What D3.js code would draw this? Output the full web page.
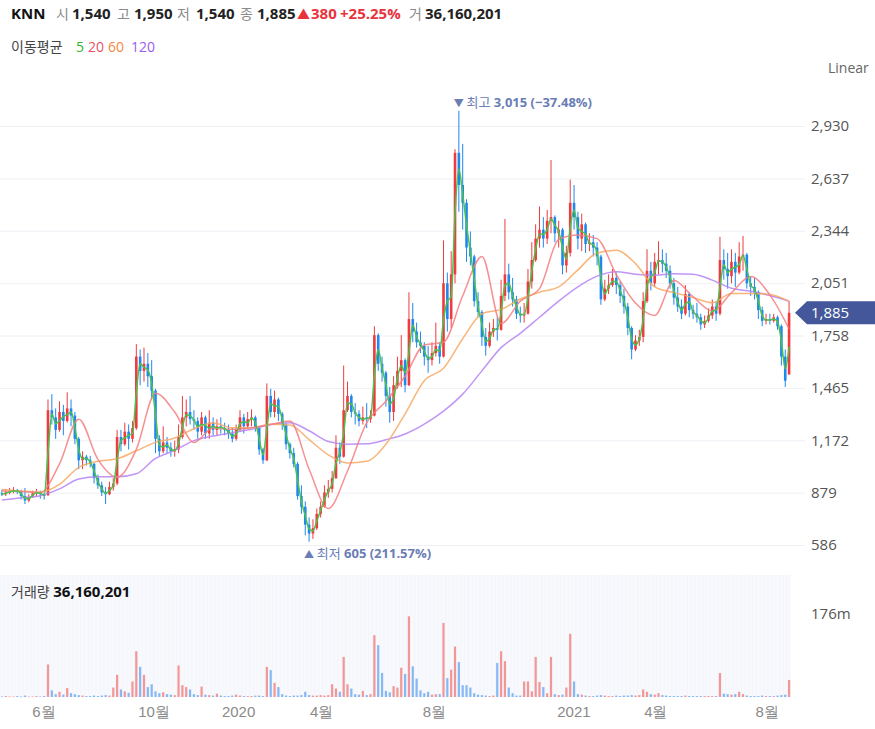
<!DOCTYPE html>
<html><head><meta charset="utf-8">
<script src="https://cdn.jsdelivr.net/npm/d3@7"></script>
<style>
body{margin:0;background:#fff;}
svg{display:block;font-family:"Open Sans","Noto Sans CJK KR",sans-serif;}
</style></head><body><svg id="c" width="875" height="729"></svg>
<script>
// ---------------- DATA ----------------
const stockName = "KNN";
const startDate = "2019-04-16";   // first trading day shown
const daysPerCandle = 3;          // each candle groups 3 trading days
const openP = [875,870,880,885,890,885,860,835,855,875,880,870,865,1340,1300,1230,1330,1280,1350,1310,1180,1060,1080,1060,1040,960,920,880,870,910,930,1190,1150,1220,1180,1240,1640,1560,1600,1530,1450,1180,1110,1160,1130,1110,1120,1190,1300,1330,1290,1280,1220,1300,1210,1270,1230,1250,1240,1230,1210,1180,1230,1300,1250,1290,1300,1240,1120,1060,1420,1330,1400,1320,1260,1150,1100,1040,860,800,700,650,680,760,800,880,900,960,1130,1080,1340,1420,1330,1320,1280,1300,1290,1310,1760,1600,1550,1420,1330,1480,1560,1620,1480,1850,1780,1720,1700,1640,1620,1660,1700,1640,2050,1850,2100,2780,2600,2500,2250,2200,1950,1890,1750,1700,1780,1800,1790,1980,2100,2000,1960,1880,1870,1880,2060,2180,2300,2350,2300,2400,2420,2330,2350,2150,2220,2500,2420,2300,2380,2270,2280,2250,2200,1960,2020,2040,2080,2040,1980,1920,1800,1680,1730,1750,1950,2120,2050,2170,2180,2160,2120,2050,1970,1920,1880,1990,1900,1880,1860,1820,1840,1870,1920,1880,2180,2130,2090,2170,2110,2200,2210,2050,2030,2000,1900,1840,1850,1840,1860,1810,1640,1540];
const highP = [895,900,905,910,900,895,905,870,890,900,890,880,1400,1430,1350,1390,1370,1440,1400,1330,1190,1110,1090,1085,1045,980,940,910,940,960,1230,1230,1270,1260,1280,1710,1680,1690,1660,1620,1460,1200,1250,1190,1160,1170,1260,1420,1400,1420,1340,1300,1330,1310,1340,1300,1290,1300,1270,1260,1240,1260,1340,1320,1330,1345,1310,1250,1130,1490,1460,1450,1410,1330,1270,1160,1130,1050,920,830,740,730,790,830,920,950,1000,1200,1160,1590,1500,1430,1380,1340,1360,1380,1340,1810,1770,1640,1560,1470,1530,1640,1760,1630,2000,1940,1830,1780,1720,1700,1720,1830,1720,2290,2110,2230,2800,3015,2830,2520,2340,2210,2000,1900,1800,1830,1850,1860,2070,2410,2160,2080,1980,1920,1940,2130,2280,2380,2480,2420,2460,2740,2430,2400,2360,2260,2630,2600,2450,2440,2390,2330,2320,2280,2210,2070,2100,2130,2110,2060,2020,1940,1810,1760,1790,2000,2240,2170,2220,2285,2240,2220,2150,2080,2030,1960,2040,2000,1930,1940,1880,1870,1910,1960,1950,2310,2240,2220,2240,2220,2280,2315,2220,2090,2080,2010,1920,1880,1880,1880,1870,1820,1680,1950];
const lowP = [860,860,870,875,870,840,815,825,850,860,845,840,860,1260,1180,1220,1200,1270,1250,1150,1010,1010,1030,1020,930,900,860,815,865,890,920,1110,1140,1120,1160,1230,1480,1500,1470,1400,1100,1080,1100,1100,1080,1080,1100,1180,1250,1260,1230,1180,1200,1180,1180,1200,1200,1210,1200,1180,1160,1170,1220,1210,1240,1250,1220,1090,1040,1055,1300,1300,1280,1230,1120,1070,1020,840,760,640,605,620,670,740,795,850,880,955,1040,1075,1330,1300,1260,1250,1260,1240,1270,1305,1560,1500,1360,1270,1280,1460,1470,1440,1475,1720,1690,1660,1590,1550,1590,1640,1600,1635,1780,1800,2050,2450,2350,2170,2150,1920,1860,1700,1645,1690,1750,1730,1785,1950,1960,1920,1850,1830,1830,1875,2020,2170,2250,2250,2270,2330,2280,2250,2100,2110,2200,2350,2240,2230,2220,2230,2200,2150,1930,1950,1990,2030,1990,1940,1880,1760,1625,1670,1700,1720,1940,2010,2030,2100,2110,2080,2020,1930,1890,1850,1870,1860,1850,1830,1790,1800,1830,1850,1840,1870,2070,2020,2050,2030,2100,2120,2020,1980,1960,1850,1810,1820,1820,1830,1790,1590,1470,1540];
const closeP = [870,880,885,890,885,860,835,855,875,880,870,860,1340,1300,1230,1330,1280,1350,1310,1180,1060,1080,1060,1040,960,920,880,870,910,930,1190,1150,1220,1180,1240,1640,1560,1600,1530,1450,1180,1110,1160,1130,1110,1120,1190,1300,1330,1290,1280,1220,1300,1210,1270,1230,1250,1240,1230,1210,1180,1230,1300,1250,1290,1300,1240,1120,1060,1420,1330,1400,1320,1260,1150,1100,1040,860,800,700,650,680,760,800,880,900,960,1130,1080,1340,1420,1330,1320,1280,1300,1290,1310,1760,1600,1550,1420,1330,1480,1560,1620,1480,1850,1780,1720,1700,1640,1620,1660,1700,1640,2050,1850,2100,2780,2600,2500,2250,2200,1950,1890,1750,1700,1780,1800,1790,1980,2100,2000,1960,1880,1870,1880,2060,2180,2300,2350,2300,2400,2420,2330,2350,2150,2220,2500,2420,2300,2380,2270,2280,2250,2200,1960,2020,2040,2080,2040,1980,1920,1800,1680,1730,1750,1950,2120,2050,2170,2180,2160,2120,2050,1970,1920,1880,1990,1900,1880,1860,1820,1840,1870,1920,1880,2180,2130,2090,2170,2110,2200,2210,2050,2030,2000,1900,1840,1850,1840,1860,1810,1640,1505,1885];
// volume in millions of shares
const volumeM = [1,2,1,1,2,1,3,1,1,2,1,2,69,14,6,11,5,19,8,6,4,3,2,2,3,2,3,4,3,20,47,16,12,9,33,97,64,47,21,27,12,8,10,6,5,4,67,25,21,16,6,4,22,5,4,3,7,3,2,2,3,5,3,2,2,2,3,3,2,64,57,30,21,6,3,2,3,3,4,11,4,3,3,4,3,4,27,18,11,85,27,18,6,5,13,4,6,131,110,51,13,10,23,20,62,49,171,65,39,14,8,11,5,6,6,157,40,58,107,74,25,25,20,8,5,4,3,2,3,72,97,76,20,8,3,3,33,33,12,85,32,21,8,85,6,4,5,20,134,33,6,5,3,2,2,3,4,3,2,2,3,2,3,3,4,3,4,16,11,6,5,8,4,3,2,2,2,2,3,2,2,2,2,2,2,2,2,51,7,6,5,6,11,6,3,2,2,2,3,2,2,2,3,4,5,36.16];
const lastVolume = 36160201;
// moving averages, one value every maStep candles
const maStep = 5;
const ma20 = [888,885,880,1040,1290,1065,965,1121,1435,1330,1160,1240,1233,1242,1260,1280,1010,790,1000,1270,1390,1530,1705,1720,1980,2200,1825,1950,2020,2295,2320,2300,2100,1940,1870,2065,1975,1895,1997,2088,1985,1795];
const ma60 = [897,888,882,925,1020,1054,1068,1113,1160,1185,1236,1268,1242,1242,1261,1258,1175,1090,1045,1055,1150,1320,1505,1575,1740,1880,1904,1962,2000,2030,2125,2220,2235,2160,2030,1998,1970,1941,1993,1993,1988,1950];
const ma120 = [838,850,862,900,955,968,968,985,1070,1115,1170,1196,1214,1233,1260,1270,1225,1165,1150,1152,1175,1207,1262,1335,1430,1560,1690,1770,1860,1950,2030,2090,2115,2100,2095,2103,2100,2068,2022,2005,1982,1950];
const maPeriods = [5,20,60,120];
const priceTicks = [586,879,1172,1465,1758,2051,2344,2637,2930];
const volumeTicks = [176];
const monthTickDates = ["2019-06-03","2019-10-01","2020-01-01","2020-04-01","2020-08-03","2021-01-01","2021-04-01","2021-08-02"];
const monthTickLabels = ["6월","10월","2020","4월","8월","2021","4월","8월"];

// ---------------- CHART ----------------
const N = closeP.length;
const svg = d3.select("#c");
const UP = "#ef3b3d", DOWN = "#1f87ee";
const MA_COLORS = ["#4cc24c","#f47e80","#f8a863","#b683f5"];
const LEGEND_COLORS = ["#2fb52f","#f0506a","#f2883c","#9a5cf0"];
const fmt = d3.format(",");

const x = d3.scaleLinear().domain([0, N*daysPerCandle]).range([0, 791]);
const cx = i => x(i*daysPerCandle + daysPerCandle/2);
const y = d3.scaleLinear().domain([priceTicks[0], priceTicks[priceTicks.length-1]]).range([545,126]);
const yv = d3.scaleLinear().domain([0,176]).range([697,614]);

function weekdayIndex(s){
  const d0 = new Date(startDate+"T00:00:00"), d1 = new Date(s+"T00:00:00");
  let n = 0;
  for (let d = new Date(d0); d < d1; d.setDate(d.getDate()+1)) { const w = d.getDay(); if (w!==0 && w!==6) n++; }
  return n;
}

// grid
const grid = svg.append("g").attr("transform","translate(805,0)")
  .call(d3.axisLeft(y).tickValues(priceTicks).tickSize(805).tickFormat(""));
grid.select(".domain").remove();
grid.selectAll("line").attr("stroke","#eef0f5");

// price labels
const pa = svg.append("g").attr("transform","translate(806,0)")
  .call(d3.axisRight(y).tickValues(priceTicks).tickSize(0).tickPadding(5).tickFormat(fmt));
pa.select(".domain").remove();
pa.selectAll("text").attr("fill","#555").style("font-size","15px").style("font-family","'Open Sans',sans-serif");

svg.append("text").attr("x",828).attr("y",73).attr("fill","#666").style("font-size","14px").text("Linear");

// volume panel
svg.append("rect").attr("x",0).attr("y",575).attr("width",791).attr("height",122).attr("fill","#f8f9fd");
svg.append("g").selectAll("line").data(d3.range(N)).join("line")
  .attr("x1",i=>x(i*daysPerCandle)).attr("x2",i=>x(i*daysPerCandle))
  .attr("y1",575).attr("y2",697).attr("stroke","#f1f3f9").attr("stroke-width",0.7);
svg.append("g").selectAll("rect").data(d3.range(N)).join("rect")
  .attr("x",i=>cx(i)-1.1).attr("width",2.2)
  .attr("y",i=>yv(volumeM[i])).attr("height",i=>Math.max(0.6, 697-yv(volumeM[i])))
  .attr("fill",i=>closeP[i]>=openP[i] ? "#f28b8b" : "#79b0f2").attr("opacity",0.9);
const va = svg.append("g").attr("transform","translate(806,0)")
  .call(d3.axisRight(yv).tickValues(volumeTicks).tickSize(0).tickPadding(5).tickFormat(d=>d+"m"));
va.select(".domain").remove();
va.selectAll("text").attr("fill","#555").style("font-size","15px").style("font-family","'Open Sans',sans-serif");

const vl = svg.append("text").attr("x",11).attr("y",597).style("font-size","15px");
vl.append("tspan").attr("fill","#444").style("font-size","14px").text("거래량 ");
vl.append("tspan").attr("fill","#111").attr("font-weight","bold").text(fmt(lastVolume));

// x axis
const xa = svg.append("g").attr("transform","translate(0,702)")
  .call(d3.axisBottom(x).tickValues(monthTickDates.map(weekdayIndex)).tickSize(0).tickPadding(0)
    .tickFormat((d,k)=>monthTickLabels[k]));
xa.select(".domain").remove();
xa.selectAll("text").attr("fill","#8a8a8a").style("font-size","15px").attr("dy","1em");

// candles
const cg = svg.append("g");
cg.selectAll("line").data(d3.range(N)).join("line")
  .attr("x1",cx).attr("x2",cx)
  .attr("y1",i=>y(highP[i])).attr("y2",i=>y(lowP[i]))
  .attr("stroke",i=>closeP[i]>=openP[i]?UP:DOWN).attr("stroke-width",1);
cg.selectAll("rect").data(d3.range(N)).join("rect")
  .attr("x",i=>cx(i)-1.3).attr("width",2.6)
  .attr("y",i=>y(Math.max(openP[i],closeP[i])))
  .attr("height",i=>Math.max(1, Math.abs(y(openP[i])-y(closeP[i]))))
  .attr("fill",i=>closeP[i]>=openP[i]?UP:DOWN);

// moving averages
const ma5 = closeP.map((v,i)=>d3.mean(closeP.slice(Math.max(0,i-1), i+1)));
const lineIdx = d3.line().x(d=>cx(d[0])).y(d=>y(d[1])).curve(d3.curveMonotoneX);
const maSeries = [
  ma5.map((v,i)=>[i,v]),
  ma20.map((v,k)=>[Math.min(N-1,k*maStep),v]),
  ma60.map((v,k)=>[Math.min(N-1,k*maStep),v]),
  ma120.map((v,k)=>[Math.min(N-1,k*maStep),v])
];
svg.append("g").selectAll("path").data(maSeries.slice().reverse()).join("path")
  .attr("d",lineIdx).attr("fill","none")
  .attr("stroke",(d,k)=>MA_COLORS[3-k]).attr("stroke-width",1.5).attr("opacity",(d,k)=>k===3?1:0.85);

// high / low annotations
const last = closeP[N-1];
const iMax = d3.maxIndex(highP), iMin = d3.minIndex(lowP);
const pf = d3.format(".2f");
const ANN = "#6a7db5";
const a1 = svg.append("text").attr("x",cx(iMax)-5).attr("y",y(highP[iMax])-4).attr("fill",ANN).style("font-size","13px");
a1.append("tspan").style("font-size","10px").text("▼ ");
a1.append("tspan").text("최고 ");
a1.append("tspan").attr("font-weight","bold").text(fmt(highP[iMax])+" ("+pf((last-highP[iMax])/highP[iMax]*100)+"%)");
const a2 = svg.append("text").attr("x",cx(iMin)-5).attr("y",y(lowP[iMin])+16).attr("fill",ANN).style("font-size","13px");
a2.append("tspan").style("font-size","10px").text("▲ ");
a2.append("tspan").text("최저 ");
a2.append("tspan").attr("font-weight","bold").text(fmt(lowP[iMin])+" ("+pf((last-lowP[iMin])/lowP[iMin]*100)+"%)");

// last price tag
const ty = y(last);
svg.append("path").attr("d",`M795,${ty} L807,${ty-11.5} L875,${ty-11.5} L875,${ty+11.5} L807,${ty+11.5} Z`).attr("fill","#43579a");
svg.append("text").attr("x",811).attr("y",ty).attr("dy","0.35em").attr("fill","#fff").style("font-size","15px").text(fmt(last));

// header
const prev = closeP[N-2];
const chg = last - prev;
const hdr = [
  [stockName,11,"#111","bold",15],["시",56,"#8a8a8a","normal",14],[fmt(openP[N-1]),72,"#222","bold",15],
  ["고",117,"#8a8a8a","normal",14],[fmt(highP[N-1]),134,"#222","bold",15],
  ["저",177,"#8a8a8a","normal",14],[fmt(lowP[N-1]),196,"#222","bold",15],
  ["종",240,"#8a8a8a","normal",14],[fmt(last),257,"#222","bold",15],
  [(chg>=0?"▲":"▼"),297,"#e8323c","normal",13],[fmt(Math.abs(chg)),311,"#e8323c","bold",15],
  [(chg>=0?"+":"")+pf(chg/prev*100)+"%",340,"#e8323c","bold",15],
  ["거",409,"#8a8a8a","normal",14],[fmt(lastVolume),425,"#222","bold",15]
];
svg.append("g").selectAll("text").data(hdr).join("text")
  .attr("x",d=>d[1]).attr("y",19).attr("fill",d=>d[2]).attr("font-weight",d=>d[3])
  .style("font-size",d=>d[4]+"px").text(d=>d[0]);

const leg = [["이동평균",11,"#444"]].concat(maPeriods.map((p,k)=>[String(p),[76,88,108,131][k],LEGEND_COLORS[k]]));
svg.append("g").selectAll("text").data(leg).join("text")
  .attr("x",d=>d[1]).attr("y",52).attr("fill",d=>d[2]).style("font-size","14px").text(d=>d[0]);
</script></body></html>
